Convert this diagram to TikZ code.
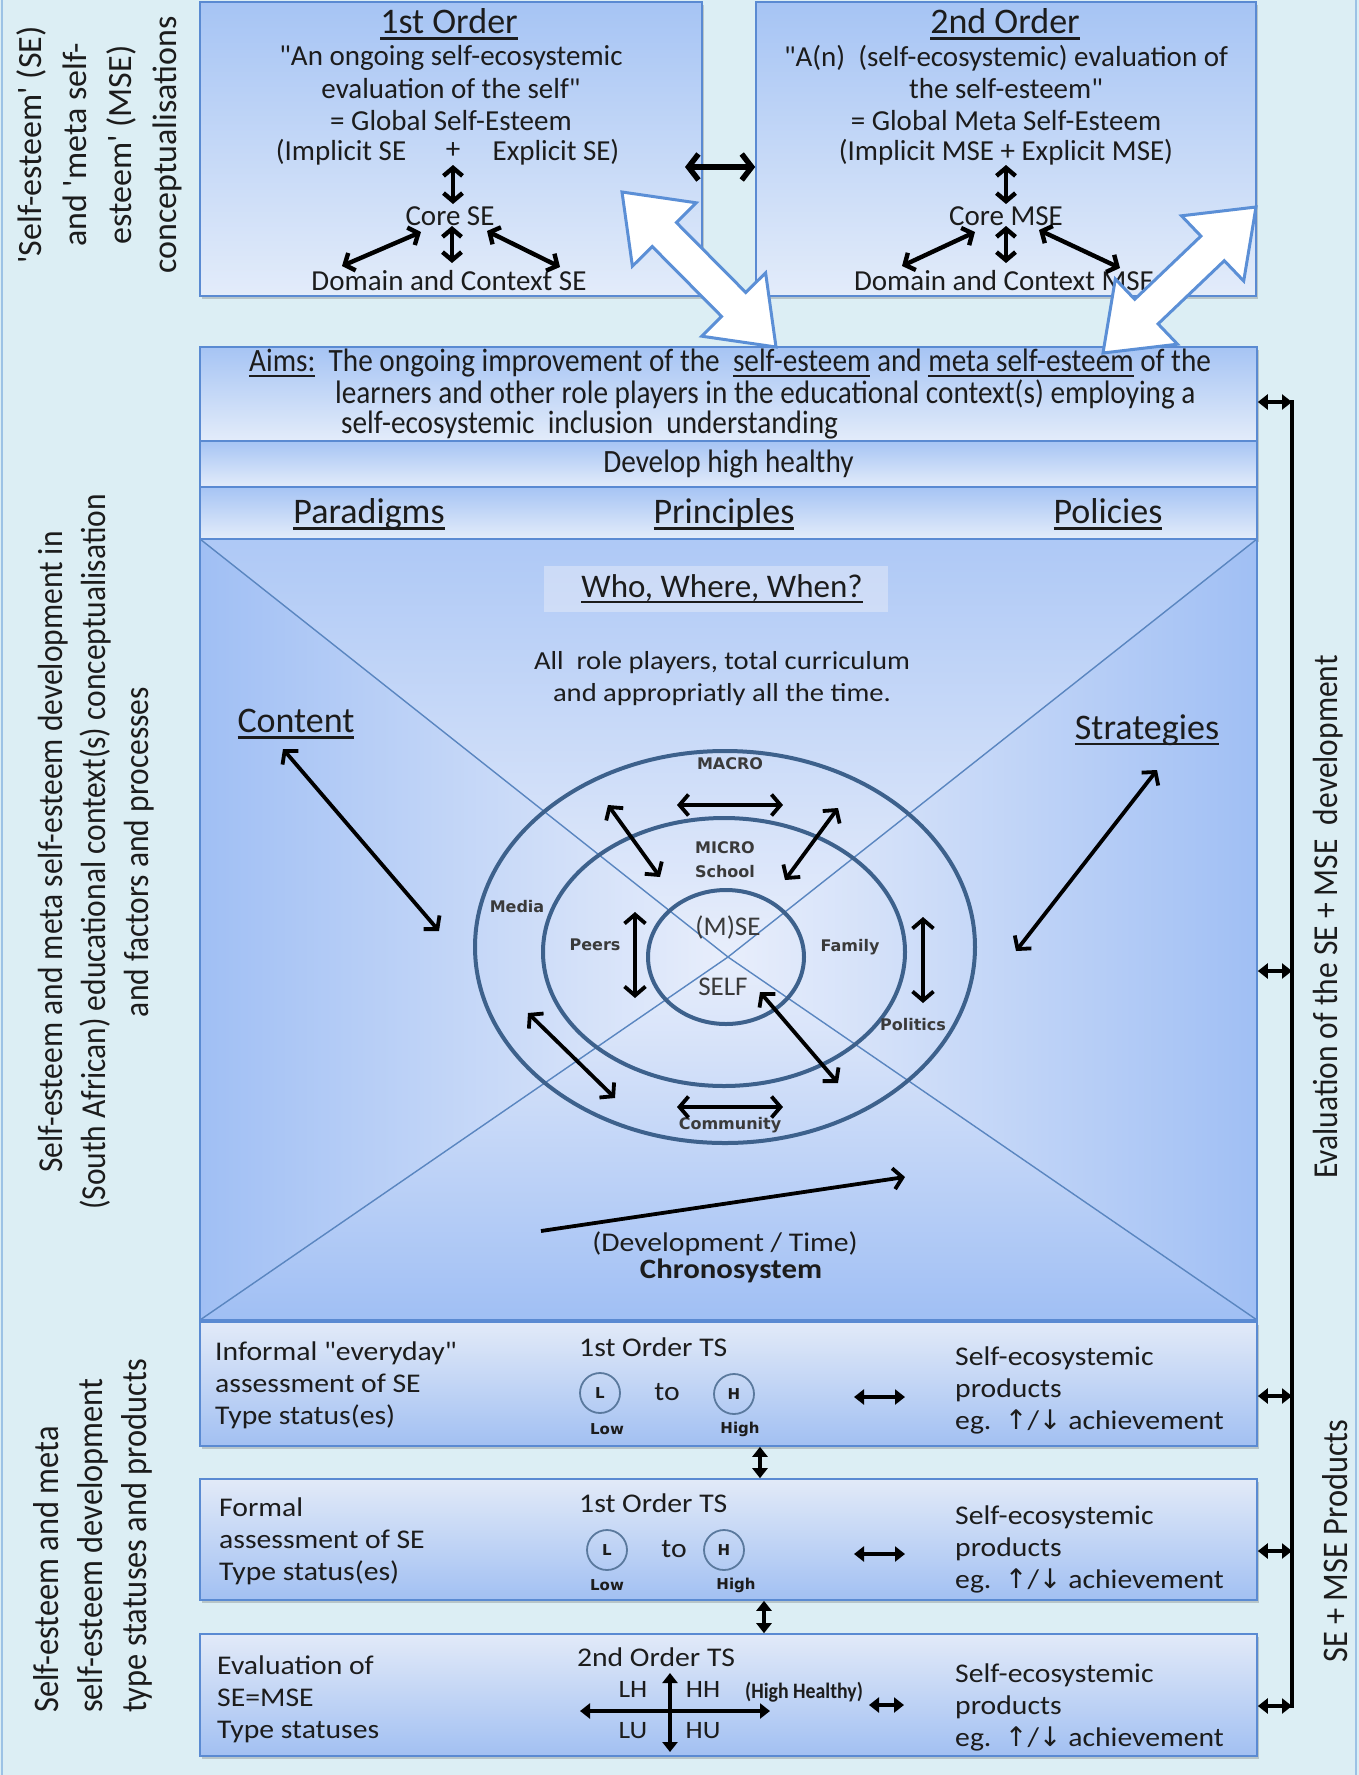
\documentclass[tikz,border=0pt]{standalone}
\usepackage{fontspec}
\defaultfontfeatures{Ligatures=TeXOff}
\setmainfont{Carlito}[Ligatures=TeXOff]
\newfontfamily\widefont[FakeStretch=1.1,Ligatures=TeXOff]{Carlito}
\newfontfamily\narrowfont[FakeStretch=0.9,Ligatures=TeXOff]{Carlito}
\newfontfamily\labfont{DejaVu Sans}
\usetikzlibrary{arrows.meta,calc,shadows}

\definecolor{bgcyan}{HTML}{DCEEF4}
\definecolor{frameline}{HTML}{9CC2E5}
\definecolor{boxline}{HTML}{5A8AD2}
\definecolor{boxdark}{HTML}{A6C4F4}
\definecolor{boxlight}{HTML}{E3ECFA}
\definecolor{lowlight}{HTML}{E2EAF8}
\definecolor{lowdark}{HTML}{A2C0F2}
\definecolor{sqedge}{HTML}{A0BFF4}
\definecolor{sqmid}{HTML}{E8EEFB}
\definecolor{diagline}{HTML}{5A86C0}
\definecolor{ringline}{HTML}{3D618C}
\definecolor{ink}{HTML}{1C1C1C}
\definecolor{labink}{HTML}{3A3A3A}
\definecolor{fatline}{HTML}{5B8FD6}
\definecolor{patch}{HTML}{E2E9F8}

% underline with a rule of its own
\newcommand{\ulx}[1]{\leavevmode\setbox0\hbox{#1}\rlap{\rule[-0.17em]{\wd0}{0.07em}}\box0\relax}
\newcommand{\fsz}[2]{\fontsize{#1}{#2}\selectfont}

\begin{document}
\begin{tikzpicture}[x=1pt,y=-1pt,
  every node/.style={text=ink,inner sep=1pt},
  panel/.style={rectangle,draw=boxline,line width=1.6pt,inner sep=0pt,
    drop shadow={shadow xshift=1.5pt,shadow yshift=-2.5pt,opacity=0.25,fill=black!70}},
  darktop/.style={panel,top color=boxdark,bottom color=boxlight},
  darkbottom/.style={panel,top color=lowlight,bottom color=lowdark},
  barbs/.style={line width=3.8pt,{Straight Barb[length=9pt,width=21pt]}-{Straight Barb[length=9pt,width=21pt]}},
  smallbarbs/.style={line width=4.4pt,{Straight Barb[length=8pt,width=19pt]}-{Straight Barb[length=8pt,width=19pt]}},
  heavybarbs/.style={line width=5.5pt,{Straight Barb[length=10pt,width=26pt]}-{Straight Barb[length=10pt,width=26pt]}},
  barbone/.style={line width=3.8pt,-{Straight Barb[length=9pt,width=21pt]}},
  solidtwo/.style={line width=3.5pt,{Triangle[length=10pt,width=15pt]}-{Triangle[length=10pt,width=15pt]}},
  ring/.style={draw=ringline,line width=4pt},
  diag/.style={draw=diagline,line width=1.4pt},
  fat/.style={draw=fatline,fill=white,line width=3pt,line join=miter},
  ttl/.style={font=\fsz{36}{40}},
  bodyt/.style={font=\fsz{29}{31}},
  aimt/.style={font=\narrowfont\fsz{32.5}{36}},
  headt/.style={font=\fsz{36}{40}},
  mid/.style={font=\widefont\fsz{26}{32},align=center},
  lab/.style={font=\labfont\bfseries\fsz{16}{24},text=labink,align=center},
  selfl/.style={font=\fsz{27}{28},text=labink},
  lowt/.style={font=\widefont\fsz{27}{32},align=left,anchor=west},
  tsring/.style={circle,draw=ringline!85,line width=1.8pt,minimum size=40pt,inner sep=0pt,font=\labfont\bfseries\fsz{15}{16}},
  tiny/.style={font=\labfont\bfseries\fsz{15}{16}},
]
\useasboundingbox (0,0) rectangle (1359,1775);
\fill[bgcyan] (0,0) rectangle (1359,1775);
\draw[frameline,line width=2.5pt] (2,0) -- (2,1775);
\draw[frameline,line width=2pt] (1356,0) -- (1356,1775);

% ---------- upper panels ----------
\node[darktop,minimum width=502pt,minimum height=294pt] (ord1) at (451,149) {};
\node[darktop,minimum width=500pt,minimum height=294pt] (ord2) at (1006,149) {};

% ---------- aims stack ----------
\node[darktop,minimum width=1057pt,minimum height=94pt] (aims) at (728.5,394) {};
\node[darktop,minimum width=1057pt,minimum height=46pt] (devp) at (728.5,464) {};
\node[darktop,minimum width=1057pt,minimum height=52pt] (ppp) at (728.5,513) {};

% ---------- the pyramid square ----------
\coordinate (TL) at (200,539);
\coordinate (TR) at (1257,539);
\coordinate (BR) at (1257,1320);
\coordinate (BL) at (200,1320);
\coordinate (O) at (728,957);
\shade[top color=sqedge!85!white,bottom color=sqmid] (TL) -- (TR) -- (O) -- cycle;
\shade[left color=sqedge,right color=sqmid] (TL) -- (O) -- (BL) -- cycle;
\shade[right color=sqedge,left color=sqmid] (TR) -- (O) -- (BR) -- cycle;
\shade[bottom color=sqedge,top color=sqmid] (BL) -- (O) -- (BR) -- cycle;
\draw[diag] (TL) -- (O) -- (BR);
\draw[diag] (TR) -- (O) -- (BL);
\node[rectangle,draw=boxline,line width=1.6pt,minimum width=1057pt,minimum height=781pt,inner sep=0pt] (sq) at (728.5,929.5) {};

% ---------- lower panels ----------
\node[darkbottom,minimum width=1057pt,minimum height=124pt] (inf) at (728.5,1384) {};
\node[darkbottom,minimum width=1057pt,minimum height=121pt] (frm) at (728.5,1539.5) {};
\node[darkbottom,minimum width=1057pt,minimum height=122pt] (evl) at (728.5,1695) {};

% ---------- first order panel ----------
\node[ttl] (h1) at (449,24) {\ulx{1st Order}};
\node[bodyt] (a1) at (451,58) {"An ongoing self-ecosystemic};
\node[bodyt] (a2) at (451,89) {evaluation of the self"};
\node[bodyt] (a3) at (451,121) {= Global Self-Esteem};
\node[bodyt] (impl1) at (341,152) {(Implicit SE};
\node[bodyt] (plus1) at (453,151) {+};
\node[bodyt] (expl1) at (556,152) {Explicit SE)};
\node[bodyt] (core1) at (450,216) {Core SE};
\node[bodyt] (dom1) at (449,281) {Domain and Context SE};
\coordinate (p1a) at (453,165); \coordinate (p1b) at (453,204);
\coordinate (l1a) at (421,232); \coordinate (l1b) at (342,266);
\coordinate (m1a) at (452,226); \coordinate (m1b) at (452,263);
\coordinate (r1a) at (487,231); \coordinate (r1b) at (560,267);
\draw[smallbarbs] (p1a) -- (p1b);
\draw[smallbarbs] (l1a) -- (l1b);
\draw[smallbarbs] (m1a) -- (m1b);
\draw[smallbarbs] (r1a) -- (r1b);

% ---------- second order panel ----------
\node[ttl] (h2) at (1005,24) {\ulx{2nd Order}};
\node[bodyt] (b1) at (1006,58) {"A(n)\ \ (self-ecosystemic) evaluation of};
\node[bodyt] (b2) at (1006,89) {the self-esteem"};
\node[bodyt] (b3) at (1006,121) {= Global Meta Self-Esteem};
\node[bodyt] (impl2) at (1006,152) {(Implicit MSE + Explicit\ MSE)};
\node[bodyt] (core2) at (1006,216) {Core MSE};
\node[bodyt] (dom2) at (1004,281) {Domain and Context MSE};
\coordinate (p2a) at (1006,165); \coordinate (p2b) at (1006,204);
\coordinate (l2a) at (975,232); \coordinate (l2b) at (902,266);
\coordinate (m2a) at (1006,226); \coordinate (m2b) at (1006,263);
\coordinate (r2a) at (1039,230); \coordinate (r2b) at (1120,268);
\draw[smallbarbs] (p2a) -- (p2b);
\draw[smallbarbs] (l2a) -- (l2b);
\draw[smallbarbs] (m2a) -- (m2b);
\draw[smallbarbs] (r2a) -- (r2b);

% link between the two orders
\coordinate (hb) at (685,167);
\draw[heavybarbs] (hb) -- (hb -| ord2.west);

% ---------- aims texts ----------
\node[aimt,anchor=west] (aim1) at (248,363) {\ulx{Aims:}\ \ The ongoing improvement of the\ \ \ulx{self-esteem} and \ulx{meta self-esteem} of the};
\node[aimt,anchor=west] (aim2) at (334,394) {learners and other role players in the educational context(s) employing a};
\node[aimt,anchor=west] (aim3) at (340,425) {self-ecosystemic\ \ inclusion\ \ understanding};
\node[font=\narrowfont\fsz{32.5}{34}] (devt) at (devp) {Develop high healthy};
\node[headt] (pdg) at (369,514) {\ulx{Paradigms}};
\node[headt] (prn) at (724,514) {\ulx{Principles}};
\node[headt] (pol) at (1108,514) {\ulx{Policies}};

% ---------- inside the square ----------
\fill[patch,opacity=0.55] (544,566) rectangle (888,612);
\node[font=\fsz{33}{36}] (who) at (722,589) {\ulx{Who, Where, When?}};
\node[mid] (allr) at (722,679) {All\ \ role players, total curriculum\\and appropriatly all the time.};
\node[headt] (cnt) at (296,724) {\ulx{Content}};
\node[headt] (str) at (1147,730) {\ulx{Strategies}};
\coordinate (ca) at (283,749); \coordinate (cb) at (439,931);
\coordinate (sa) at (1157,770); \coordinate (sb) at (1016,951);
\draw[barbs] (ca) -- (cb);
\draw[barbs] (sa) -- (sb);

% rings
\draw[ring] (725,947) ellipse [x radius=250pt,y radius=196pt];
\draw[ring] (724,952) ellipse [x radius=181pt,y radius=134pt];
\draw[ring] (726,957) ellipse [x radius=78pt,y radius=67pt];

\node[lab] (macro) at (730,764) {MACRO};
\node[lab] (micro) at (725,860) {MICRO\\School};
\node[lab] (media) at (517,907) {Media};
\node[lab] (peers) at (595,945) {Peers};
\node[lab] (family) at (850,947) {Family};
\node[lab] (politics) at (913,1025) {Politics};
\node[lab] (community) at (730,1125) {Community};
\node[selfl] (mse) at (728,927) {(M)SE};
\node[selfl] (self) at (723,987) {SELF};

\coordinate (ga1) at (677,805); \coordinate (ga2) at (783,805);
\coordinate (gb1) at (608,805); \coordinate (gb2) at (660,877);
\coordinate (gc1) at (838,808); \coordinate (gc2) at (785,880);
\coordinate (gd1) at (635,912); \coordinate (gd2) at (635,998);
\coordinate (ge1) at (923,917); \coordinate (ge2) at (923,1003);
\coordinate (gf1) at (760,992); \coordinate (gf2) at (838,1083);
\coordinate (gg1) at (528,1013); \coordinate (gg2) at (615,1098);
\coordinate (gh1) at (677,1107); \coordinate (gh2) at (783,1107);
\foreach \p in {a,b,c,d,e,f,g,h} \draw[barbs] (g\p1) -- (g\p2);

% chronosystem
\coordinate (ta) at (541,1231); \coordinate (tb) at (905,1177);
\draw[barbone] (ta) -- (tb);
\node[font=\widefont\fsz{27}{28}] (devtime) at (725,1244) {(Development / Time)};
\node[font=\widefont\bfseries\fsz{28}{30}] (chrono) at (731,1271) {Chronosystem};

% ---------- informal panel ----------
\node[lowt] (inft) at (214,1385) {Informal "everyday"\\assessment of SE\\Type status(es)};
\node[lowt] (ts1) at (578,1347) {1st Order TS};
\node[tsring] (lo1) at (600,1393) {L};
\node[font=\widefont\fsz{27}{30}] (to1) at (667,1392) {to};
\node[tsring] (hi1) at (734,1394) {H};
\node[tiny] (low1) at (607,1429) {Low};
\node[tiny] (high1) at (740,1429) {High};
\coordinate (s1a) at (854,1397); \coordinate (s1b) at (905,1397);
\draw[solidtwo,line width=4.5pt] (s1a) -- (s1b);
\node[lowt] (pr1) at (954,1390) {Self-ecosystemic\\products\\eg.\ \ {\labfont ↑}/{\labfont ↓} achievement};

% ---------- formal panel ----------
\node[lowt] (frmt) at (218,1541) {Formal\\assessment of SE\\Type status(es)};
\node[lowt] (ts2) at (578,1503) {1st Order TS};
\node[tsring] (lo2) at (607,1550) {L};
\node[font=\widefont\fsz{27}{30}] (to2) at (674,1549) {to};
\node[tsring] (hi2) at (724,1550) {H};
\node[tiny] (low2) at (607,1585) {Low};
\node[tiny] (high2) at (736,1585) {High};
\coordinate (s2a) at (854,1554); \coordinate (s2b) at (905,1554);
\draw[solidtwo,line width=4.5pt] (s2a) -- (s2b);
\node[lowt] (pr2) at (954,1549) {Self-ecosystemic\\products\\eg.\ \ {\labfont ↑}/{\labfont ↓} achievement};

% ---------- second order evaluation panel ----------
\node[lowt] (evlt) at (216,1699) {Evaluation of\\SE=MSE\\Type statuses};
\node[font=\widefont\fsz{27}{30}] (ts3) at (656,1657) {2nd Order TS};
\coordinate (xa) at (580,1711); \coordinate (xb) at (770,1711);
\coordinate (ya) at (670,1673); \coordinate (yb) at (670,1752);
\draw[solidtwo,line width=4pt] (xa) -- (xb);
\draw[solidtwo,line width=4pt] (ya) -- (yb);
\node[font=\widefont\fsz{25}{28}] (lh) at (633,1689) {LH};
\node[font=\widefont\fsz{25}{28}] (hh) at (703,1689) {HH};
\node[font=\widefont\fsz{25}{28}] (lu) at (633,1731) {LU};
\node[font=\widefont\fsz{25}{28}] (hu) at (703,1731) {HU};
\node[font=\narrowfont\bfseries\fsz{22}{24}] (hhl) at (804,1692) {(High Healthy)};
\coordinate (s3a) at (869,1705); \coordinate (s3b) at (904,1705);
\draw[solidtwo,line width=4.5pt] (s3a) -- (s3b);
\node[lowt] (pr3) at (954,1707) {Self-ecosystemic\\products\\eg.\ \ {\labfont ↑}/{\labfont ↓} achievement};

% links between the lower panels
\draw[solidtwo] ([xshift=31.5pt]inf.south) -- ([xshift=31.5pt]frm.north);
\draw[solidtwo] ([xshift=35.5pt]frm.south) -- ([xshift=35.5pt]evl.north);

% ---------- right bracket ----------
\coordinate (rb1) at (1292,402);
\coordinate (rb2) at (1292,971);
\coordinate (rb3) at (1292,1396);
\coordinate (rb4) at (1292,1551);
\coordinate (rb5) at (1292,1706);
\draw[line width=4.5pt] ([yshift=2pt]rb1) -- ([yshift=-2pt]rb5);
\draw[solidtwo] (rb1 -| aims.east) -- (rb1);
\draw[solidtwo] (rb2 -| sq.east) -- (rb2);
\draw[solidtwo] (rb3 -| inf.east) -- (rb3);
\draw[solidtwo] (rb4 -| frm.east) -- (rb4);
\draw[solidtwo] (rb5 -| evl.east) -- (rb5);
\node[rotate=90,font=\narrowfont\fsz{35}{40}] (rt1) at (1328,917) {Evaluation of the SE + MSE\ \ development};
\node[rotate=90,font=\narrowfont\fsz{36}{40}] (rt2) at (1335,1541) {SE + MSE Products};

% ---------- left side captions ----------
\node[rotate=90,align=center,font=\fsz{34}{45}] (lt1) at (99,145) {'Self-esteem' (SE)\\and 'meta self-\\esteem' (MSE)\\conceptualisations};
\node[rotate=90,align=center,font=\narrowfont\fsz{35}{43}] (lt2) at (96,852) {Self-esteem and meta self-esteem development in\\(South African) educational context(s) conceptualisation\\and factors and processes};
\node[rotate=90,align=left,font=\narrowfont\fsz{36}{44}] (lt3) at (93,1536) {Self-esteem and meta\\self-esteem development\\type statuses and products};

% ---------- wide two-way arrows ----------
\draw[fat] (622,192) -- (696.2,202.8) -- (676.4,222.5) -- (745.8,292.5) -- (765.6,272.8) -- (776,347)
  -- (701.8,336.2) -- (721.6,316.5) -- (652.2,246.5) -- (632.4,266.2) -- cycle;
\draw[fat] (1256,207) -- (1243.7,281.0) -- (1224.3,260.7) -- (1158.1,323.9) -- (1177.5,344.2) -- (1103,353)
  -- (1115.3,279.0) -- (1134.7,299.3) -- (1200.9,236.1) -- (1181.5,215.8) -- cycle;
\end{tikzpicture}
\end{document}
